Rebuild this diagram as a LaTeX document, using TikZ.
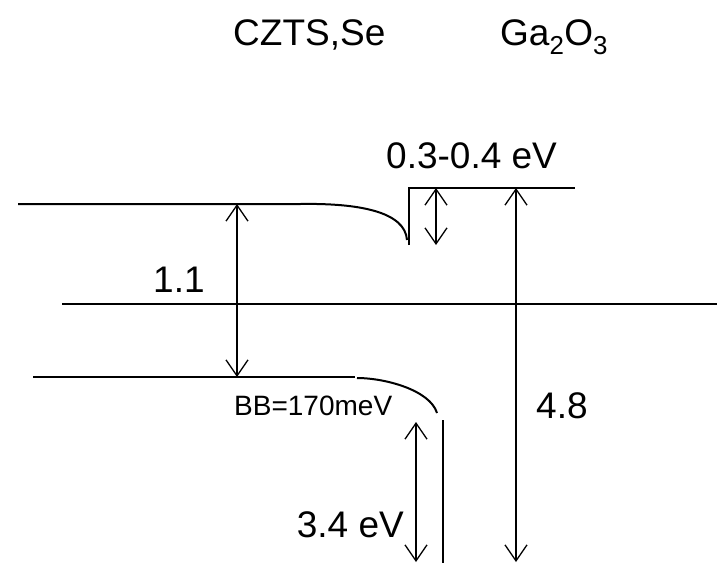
\documentclass[tikz,border=0pt]{standalone}
\usepackage{fontspec}
\setmainfont{Liberation Sans}
\usetikzlibrary{positioning,arrows.meta}

\begin{document}
\begin{tikzpicture}[x=1pt, y=-1pt,
    bandLine/.style={line width=2pt, draw=black},
    spikeLine/.style={line width=2.6pt, draw=black},
    arrowStyle/.style={{Straight Barb[length=16pt,width=22pt]}-{Straight Barb[length=16pt,width=22pt]}, line width=1.3pt, draw=black},
    bigLabel/.style={font=\fontsize{37}{44}\selectfont, inner sep=0pt},
    smallLabel/.style={font=\fontsize{28}{34}\selectfont, inner sep=0pt}
]
    \useasboundingbox (0,0) rectangle (717,563);

    % Titoli
    \node[bigLabel, anchor=base west] (czts) at (233,45) {CZTS,Se};
    \node[bigLabel, anchor=base west] (gao) at (500,45) {Ga\textsubscript{2}O\textsubscript{3}};

    % Punti delle bande
    \coordinate (cbL) at (237,204);
    \coordinate (vbL) at (237,377);
    \coordinate (spikeTop) at (436,188);
    \coordinate (spikeBot) at (436,245);
    \coordinate (cbR) at (516,188);
    \coordinate (vbR) at (516,562);
    \coordinate (offTop) at (416,422);
    \coordinate (offBot) at (416,562);

    % Bande
    \draw[bandLine] (18,204) -- (300,204) .. controls (360,203) and (405,212) .. (407,240);
    \draw[spikeLine] (409,245) -- (409,188) -- (575,188);
    \draw[bandLine] (62,304) -- (717,304);
    \draw[bandLine] (33,377) -- (355,377);
    \draw[bandLine] (357,378) .. controls (385,378) and (430,390) .. (437,413);
    \draw[bandLine] (443,420) -- (443,563);

    % Frecce
    \draw[arrowStyle] (cbL) -- (vbL);
    \draw[arrowStyle] (spikeTop) -- (spikeBot);
    \draw[arrowStyle] (cbR) -- (vbR);
    \draw[arrowStyle] (offTop) -- (offBot);

    % Etichette
    \node[bigLabel, anchor=base west] (spikeLab) at (386,168) {0.3-0.4 eV};
    \node[bigLabel, anchor=base west] (gapL) at (153,292) {1.1};
    \node[smallLabel, anchor=base west] (bbLab) at (234,415) {BB=170meV};
    \node[bigLabel, anchor=base east] (offLab) at (404,537) {3.4 eV};
    \node[bigLabel, anchor=base west] (gapR) at (536,418) {4.8};
\end{tikzpicture}
\end{document}
